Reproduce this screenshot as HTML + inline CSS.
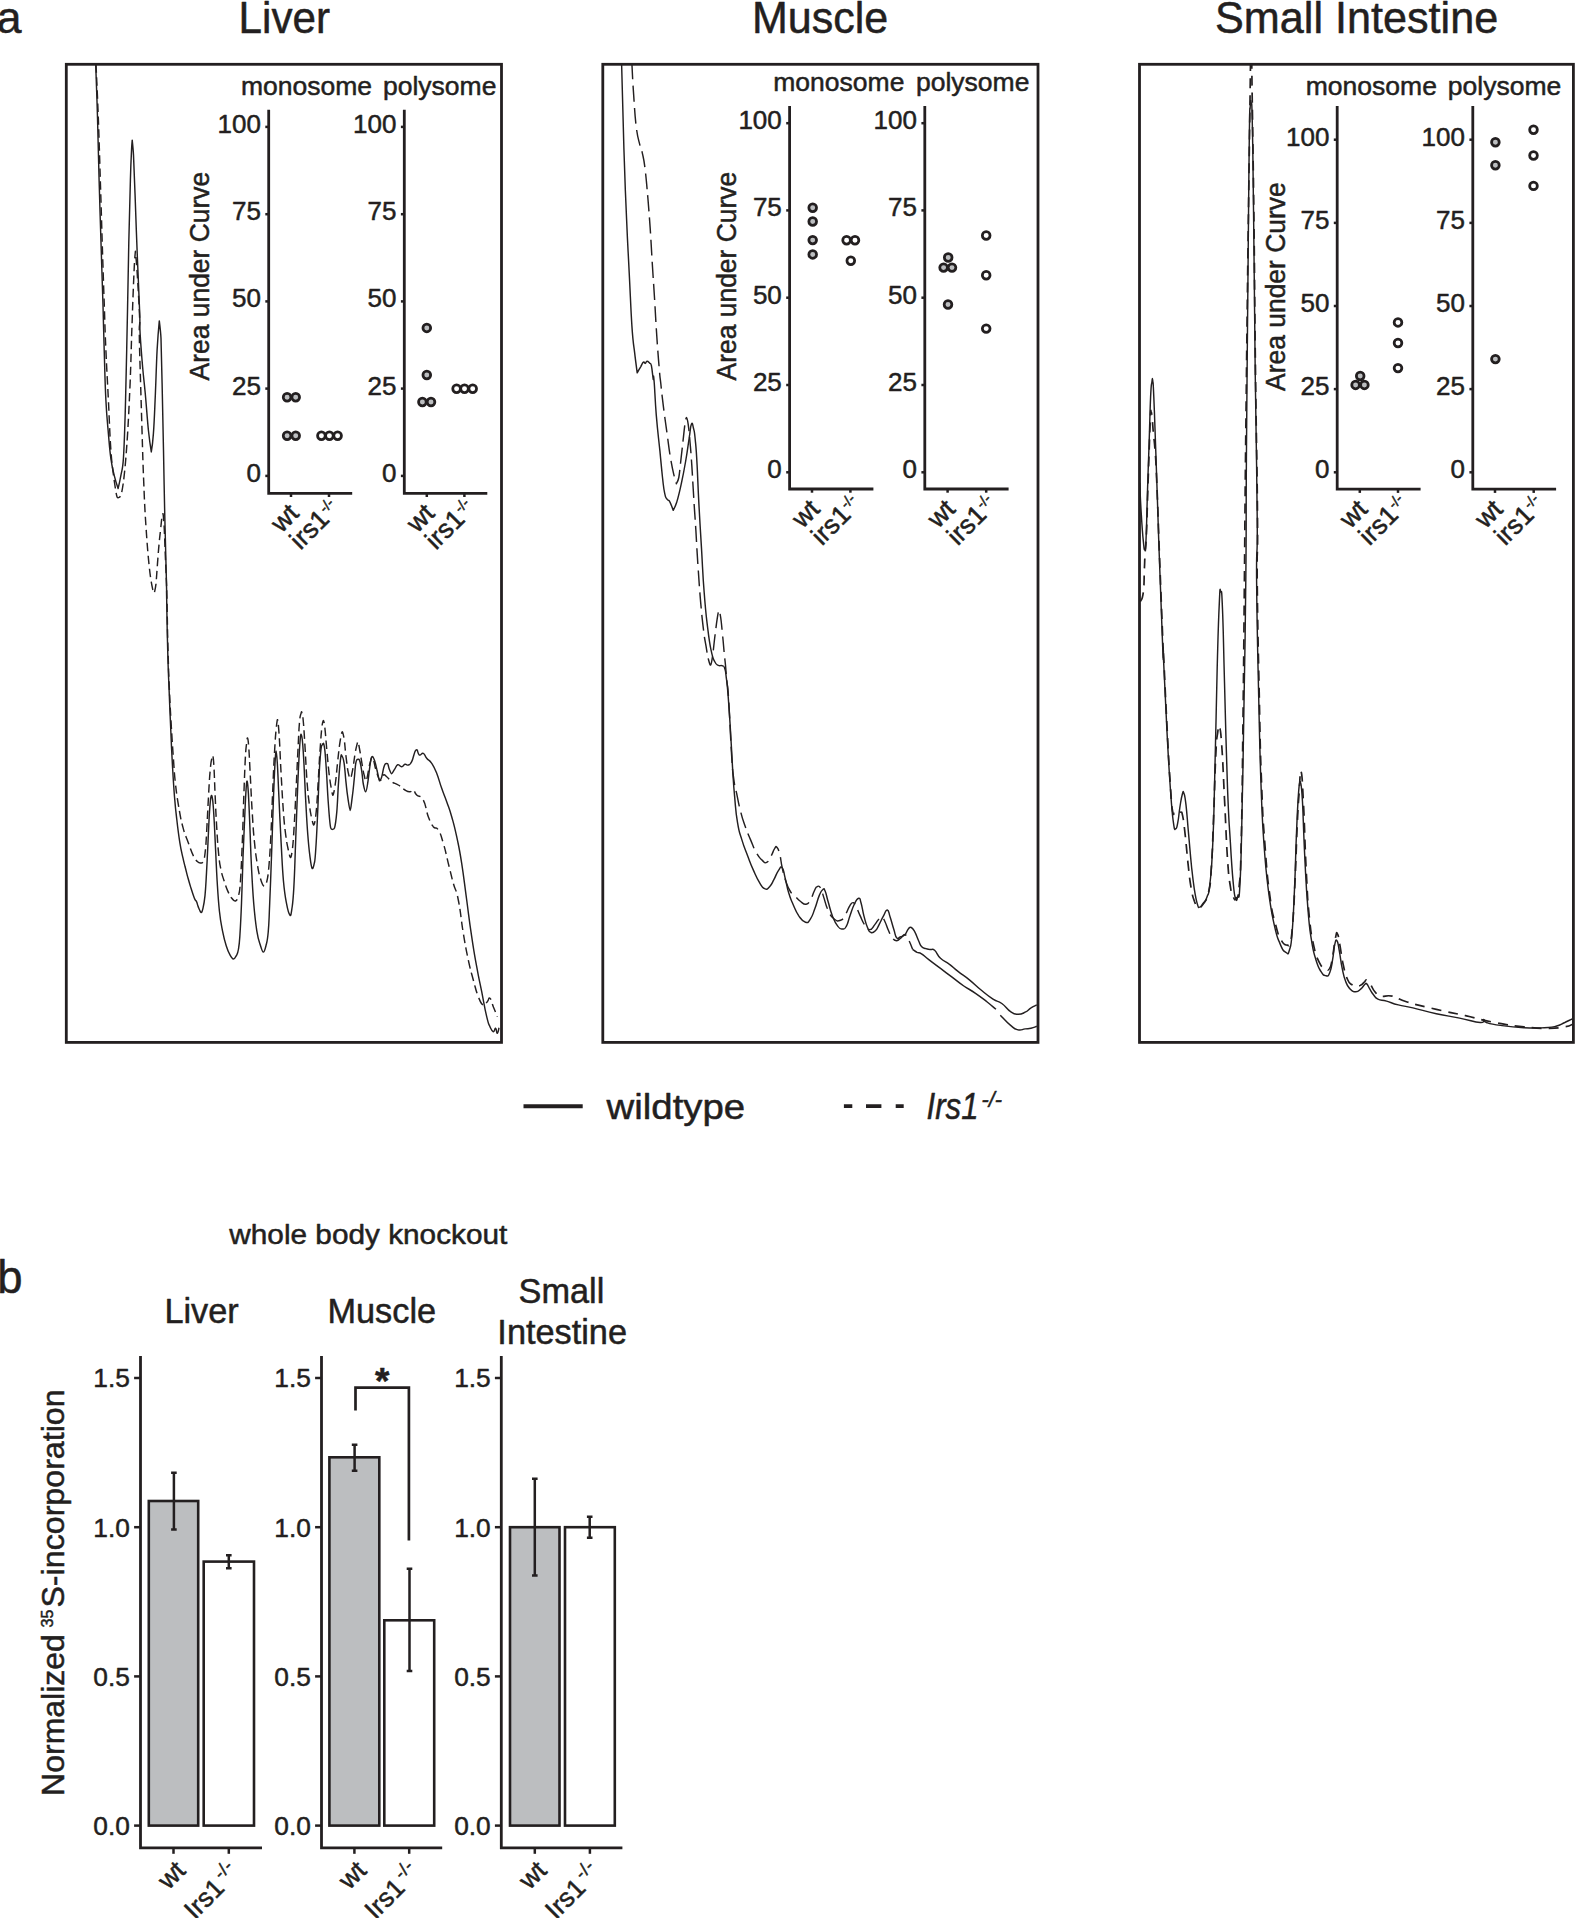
<!DOCTYPE html>
<html lang="en"><head><meta charset="utf-8"><title>Figure</title>
<style>
html,body{margin:0;padding:0;background:#fff;}
body{width:1575px;height:1918px;overflow:hidden;}
svg{display:block;}
svg text{font-family:'Liberation Sans', sans-serif;fill:#231f20;stroke:#231f20;stroke-width:0.5px;stroke-linejoin:round;}
svg line,svg path,svg rect,svg circle{stroke:#231f20;}
</style></head><body>
<svg width="1575" height="1918" viewBox="0 0 1575 1918">
<rect x="0" y="0" width="1575" height="1918" fill="#fff" stroke="none" style="stroke:none"/>
<clipPath id="cp0"><rect x="66.3" y="64.3" width="435.2" height="978.1"/></clipPath>
<clipPath id="cp1"><rect x="602.8" y="64.3" width="435.2" height="978.1"/></clipPath>
<clipPath id="cp2"><rect x="1139.5" y="64.3" width="433.9" height="978.1"/></clipPath>
<path d="M95.7,64.4 C95.7,64.4 97.0,98.3 97.5,117.5 C98.1,136.8 98.5,159.2 99.1,180.1 C99.7,200.9 100.3,221.8 101.0,242.6 C101.6,263.5 102.5,287.3 103.0,305.2 C103.5,323.1 103.6,331.1 104.2,350.1 C104.8,369.1 105.0,383.5 105.9,400.2 C106.7,416.9 107.4,421.9 108.4,433.6 C109.4,445.2 109.7,450.3 110.9,458.6 C112.0,466.9 112.8,469.3 114.2,475.3 C115.7,481.3 118.1,488.6 118.1,488.6 C118.1,488.6 119.8,481.3 120.9,475.3 C122.0,469.3 122.6,470.3 123.4,458.6 C124.2,446.9 124.4,438.6 125.1,416.9 C125.7,395.2 126.0,384.9 126.7,350.1 C127.5,315.2 128.2,271.0 128.8,242.6 C129.4,214.3 129.9,195.7 130.4,180.1 C130.8,164.5 131.4,152.8 131.6,148.8 C131.8,144.8 132.2,140.2 132.2,140.2 C132.2,140.2 133.2,149.5 133.5,155.1 C133.8,160.6 134.4,178.5 135.1,195.7 C135.7,212.9 136.6,238.7 137.4,258.3 C138.2,277.8 139.3,300.5 139.7,313.0 C140.2,325.5 139.5,322.6 140.1,333.4 C140.7,344.1 141.6,355.1 142.6,366.8 C143.6,378.5 143.9,379.1 145.1,391.8 C146.3,404.5 147.2,418.2 148.4,430.2 C149.7,442.2 151.3,451.9 151.3,451.9 C151.3,451.9 152.7,443.9 153.4,433.6 C154.2,423.2 154.4,416.9 155.1,400.2 C155.9,383.5 156.3,365.9 157.1,350.1 C158.0,334.2 159.3,320.9 159.3,320.9 C159.3,320.9 160.7,332.1 161.0,338.4 C161.2,344.7 161.6,361.1 162.1,383.5 C162.6,405.8 162.9,423.5 163.5,450.3 C164.0,477.0 164.2,490.3 164.8,517.0 C165.4,543.7 166.1,567.2 166.5,583.8 C166.8,600.4 166.3,582.3 166.7,600.0 C167.0,617.7 167.0,626.0 167.7,650.0 C168.3,674.0 168.4,671.8 169.1,690.0 C169.8,708.2 169.9,710.3 170.7,728.1 C171.4,745.9 171.6,750.2 172.5,766.2 C173.4,782.2 173.5,784.2 174.5,796.7 C175.5,809.1 175.5,808.9 176.8,819.5 C178.0,830.2 178.4,833.5 179.8,842.4 C181.2,851.3 181.6,851.9 182.9,857.6 C184.1,863.3 184.1,862.5 185.1,866.8 C186.2,871.0 186.2,871.3 187.4,875.9 C188.7,880.5 188.9,881.4 190.5,886.6 C192.1,891.7 192.9,894.4 194.3,898.0 C195.7,901.6 195.7,899.9 196.6,901.8 C197.5,903.8 197.1,904.0 198.1,906.4 C199.1,908.8 200.2,911.8 200.8,912.2 C201.4,912.6 201.7,913.3 202.7,909.4 C203.6,905.6 204.1,904.2 205.0,895.7 C205.8,887.2 205.8,885.3 206.5,872.9 C207.2,860.4 207.3,856.6 208.0,842.4 C208.7,828.2 208.8,822.6 209.5,811.9 C210.2,801.2 210.6,798.3 211.0,796.7 C211.5,795.0 211.9,794.4 212.6,799.7 C213.3,805.0 213.4,807.8 214.1,819.5 C214.8,831.3 214.9,835.8 215.6,850.0 C216.3,864.2 216.3,866.3 217.1,880.5 C218.0,894.7 218.2,899.2 219.4,911.0 C220.7,922.7 220.9,922.6 222.5,930.8 C224.1,938.9 224.5,940.3 226.3,946.0 C228.1,951.7 228.4,952.1 230.1,955.1 C231.8,958.2 232.6,958.9 233.4,959.0 C234.3,959.1 235.0,958.2 236.2,955.9 C237.4,953.6 237.6,954.2 238.5,949.0 C239.4,943.9 239.3,944.5 240.0,933.8 C240.7,923.1 240.8,921.1 241.5,903.3 C242.2,885.6 242.3,877.2 243.0,857.6 C243.8,838.1 243.9,835.5 244.6,819.5 C245.3,803.5 245.5,797.9 246.1,789.0 C246.7,780.2 246.9,780.8 247.2,781.4 C247.5,782.0 247.7,783.0 248.4,793.6 C249.0,804.3 249.2,810.4 249.9,827.1 C250.6,843.9 250.5,847.5 251.4,865.2 C252.3,883.0 252.5,888.0 253.7,903.3 C255.0,918.6 255.2,920.8 256.8,930.8 C258.4,940.7 259.0,941.0 260.6,946.0 C262.1,951.0 262.6,952.1 263.3,952.1 C264.0,952.1 264.8,950.6 265.9,946.0 C267.0,941.4 267.3,942.2 268.2,932.3 C269.1,922.3 268.8,924.3 269.7,903.3 C270.6,882.4 271.1,867.3 272.0,842.4 C272.9,817.5 272.8,815.2 273.5,796.7 C274.2,778.2 274.4,773.8 275.0,763.1 C275.7,752.5 275.8,751.0 276.1,751.0 C276.4,751.0 276.7,752.5 277.3,763.1 C278.0,773.8 278.0,778.2 278.9,796.7 C279.7,815.2 280.1,822.8 281.1,842.4 C282.2,861.9 282.2,866.3 283.4,880.5 C284.7,894.7 284.9,895.2 286.5,903.3 C288.0,911.4 289.3,914.4 290.0,915.2 C290.7,916.0 290.9,915.8 291.8,909.4 C292.7,903.1 292.9,903.7 293.8,888.1 C294.7,872.5 294.7,867.3 295.6,842.4 C296.6,817.5 296.9,804.5 297.9,781.4 C298.9,758.3 299.1,754.2 299.9,743.3 C300.7,732.5 301.0,733.9 301.4,735.0 C301.9,736.0 302.3,736.6 303.2,751.0 C304.2,765.4 304.5,777.1 305.5,796.7 C306.6,816.2 306.7,820.5 307.8,834.8 C308.9,849.0 309.1,849.8 310.1,857.6 C311.1,865.4 311.5,867.5 312.1,868.3 C312.6,869.1 313.4,868.0 314.2,863.7 C315.1,859.4 314.9,862.1 315.7,850.0 C316.6,837.9 316.9,829.7 317.7,811.9 C318.5,794.1 318.5,788.0 319.2,773.8 C319.9,759.6 320.1,757.7 320.8,751.0 C321.5,744.2 321.5,745.9 322.3,744.9 C323.1,743.8 323.4,741.4 324.3,746.4 C325.2,751.4 325.1,752.7 326.1,766.2 C327.1,779.7 327.3,789.9 328.4,804.3 C329.4,818.7 330.1,825.5 330.7,827.9 C331.3,830.3 333.9,829.5 334.5,827.9 C335.1,826.3 335.8,822.7 336.8,811.9 C337.7,801.1 337.7,793.9 338.6,781.4 C339.5,769.0 339.8,764.4 340.6,758.6 C341.4,752.7 341.3,755.2 342.1,756.3 C342.9,757.4 343.2,757.3 344.1,763.1 C345.0,769.0 345.1,773.6 345.9,781.4 C346.8,789.3 346.7,789.9 347.7,796.7 C348.7,803.4 349.6,810.4 350.2,810.4 C350.8,810.4 351.3,804.1 352.3,796.7 C353.3,789.2 353.5,786.2 354.3,778.4 C355.1,770.6 355.0,767.6 355.8,763.1 C356.6,758.7 356.8,759.7 357.8,759.3 C358.8,759.0 359.0,758.6 359.9,761.6 C360.9,764.6 361.1,767.0 361.9,772.3 C362.7,777.6 362.5,779.9 363.4,784.5 C364.3,789.0 365.2,791.8 365.7,791.8 C366.3,791.8 366.7,789.7 367.5,784.5 C368.4,779.2 368.7,775.1 369.5,769.2 C370.3,763.4 370.3,762.2 371.0,759.3 C371.8,756.4 372.1,756.4 372.6,756.7 C373.1,757.0 373.8,758.3 374.9,761.6 C375.9,764.9 376.1,766.3 377.1,770.8 C378.2,775.2 379.0,780.1 379.4,780.7 C379.9,781.3 380.7,779.9 381.7,776.9 C382.7,773.8 382.9,770.7 383.7,767.7 C384.5,764.7 384.8,764.3 385.2,763.9 C385.6,763.5 387.4,763.4 387.8,763.9 C388.2,764.4 388.4,766.9 389.3,769.2 C390.2,771.5 391.1,773.8 391.6,773.8 C392.2,773.8 393.2,771.4 394.7,769.2 C396.1,767.1 396.1,765.3 397.7,764.7 C399.3,764.1 399.7,766.8 401.7,766.7 C403.6,766.6 403.2,764.8 405.0,764.3 C406.8,763.9 406.6,765.7 408.3,765.0 C410.1,764.3 409.6,765.7 411.7,761.7 C413.7,757.7 414.0,751.8 416.0,750.0 C418.0,748.2 417.4,754.1 419.3,755.0 C421.3,755.9 421.4,752.4 423.3,753.3 C425.3,754.2 424.4,755.7 426.7,758.3 C428.9,761.0 429.0,759.3 431.7,763.3 C434.3,767.3 434.0,766.7 436.7,773.3 C439.3,780.0 439.0,780.8 441.7,788.3 C444.3,795.9 444.0,794.1 446.7,801.7 C449.3,809.2 449.0,807.3 451.7,816.7 C454.3,826.0 454.0,824.2 456.7,836.7 C459.3,849.1 459.0,846.4 461.7,863.3 C464.3,880.2 464.0,880.4 466.7,900.0 C469.3,919.6 469.0,918.9 471.7,936.7 C474.3,954.4 474.0,952.0 476.7,966.7 C479.3,981.3 479.0,978.3 481.7,991.7 C484.3,1005.0 484.4,1007.3 486.7,1016.7 C488.9,1026.0 488.2,1022.7 490.0,1026.7 C491.8,1030.7 491.8,1031.2 493.3,1031.7 C494.8,1032.1 494.6,1027.9 495.7,1028.3 C496.7,1028.8 496.4,1033.5 497.3,1033.3 C498.2,1033.2 498.6,1029.2 499.0,1027.7" fill="none" stroke-width="1.45" clip-path="url(#cp0)" stroke-linejoin="round"/>
<path d="M96.0,64.4 C96.0,64.4 97.6,98.3 98.3,117.5 C99.0,136.8 99.7,159.2 100.3,180.1 C101.0,200.9 101.6,221.8 102.2,242.6 C102.9,263.5 103.6,287.3 104.3,305.2 C104.9,323.1 105.0,331.1 105.9,350.1 C106.7,369.1 107.4,380.1 108.4,400.2 C109.4,420.2 109.7,434.2 110.9,450.3 C112.0,466.3 113.0,471.0 114.2,480.3 C115.5,489.6 116.4,495.5 117.1,497.0 C117.7,498.5 120.2,497.5 120.9,495.3 C121.6,493.2 122.9,487.6 124.2,475.3 C125.6,462.9 126.4,451.9 127.6,433.6 C128.7,415.2 129.2,403.5 130.1,383.5 C130.9,363.4 131.2,349.0 131.7,333.4 C132.3,317.7 132.3,316.4 132.7,305.2 C133.1,294.0 134.0,271.5 134.3,266.1 C134.5,260.7 135.4,251.2 135.4,251.2 C135.4,251.2 136.3,260.7 136.6,264.5 C136.9,268.4 137.7,280.2 138.2,289.6 C138.7,298.9 139.6,313.5 139.7,320.8 C139.9,328.1 139.1,320.9 139.3,333.4 C139.4,345.9 140.0,363.4 140.6,383.5 C141.2,403.5 141.5,413.5 142.1,433.6 C142.7,453.6 143.0,465.3 143.8,483.6 C144.5,502.0 144.8,508.7 145.9,525.4 C147.0,542.1 147.9,554.4 149.3,567.1 C150.6,579.8 152.1,586.2 152.6,588.8 C153.1,591.4 154.3,593.0 154.3,593.0 C154.3,593.0 155.5,588.1 156.0,583.8 C156.4,579.5 157.6,561.1 158.5,550.4 C159.4,539.7 159.7,537.4 160.5,530.4 C161.2,523.4 161.9,517.0 162.1,515.4 C162.4,513.7 163.1,513.7 163.1,513.7 C163.1,513.7 163.9,521.7 164.1,525.4 C164.3,529.0 164.7,538.7 165.1,550.4 C165.6,562.1 166.1,573.9 166.5,583.8 C166.8,593.7 166.6,582.3 167.0,600.0 C167.4,617.7 167.3,626.0 168.0,650.0 C168.7,674.0 168.6,671.8 169.4,690.0 C170.2,708.2 170.5,712.1 171.4,728.1 C172.4,744.1 172.5,746.1 173.4,758.6 C174.3,771.0 174.1,770.8 175.2,781.4 C176.4,792.1 176.5,793.6 178.3,804.3 C180.1,815.0 180.5,818.3 182.9,827.1 C185.2,836.0 185.7,835.6 188.2,842.4 C190.7,849.1 191.4,851.7 193.5,856.1 C195.7,860.5 195.7,859.8 197.3,861.4 C198.9,863.0 199.0,863.1 200.4,863.0 C201.8,862.8 202.3,863.7 203.4,860.7 C204.6,857.6 204.6,857.8 205.4,850.0 C206.2,842.2 206.2,839.6 206.9,827.1 C207.6,814.7 207.7,810.2 208.5,796.7 C209.2,783.2 209.5,778.1 210.3,769.2 C211.1,760.3 211.2,761.8 211.8,758.6 C212.4,755.4 212.5,754.8 212.7,755.5 C212.9,756.3 213.4,756.6 213.9,766.2 C214.5,775.8 214.5,782.4 215.2,796.7 C215.8,810.9 215.9,813.6 216.7,827.1 C217.5,840.7 217.7,844.6 218.7,854.6 C219.7,864.5 219.7,863.8 221.0,869.8 C222.2,875.9 222.4,875.5 224.0,880.5 C225.6,885.5 226.0,887.1 227.8,891.1 C229.6,895.2 229.8,895.7 231.6,898.0 C233.4,900.3 234.5,901.4 235.4,901.0 C236.3,900.7 237.3,900.5 238.5,895.7 C239.6,890.9 239.6,892.9 240.5,880.5 C241.3,868.0 241.5,861.9 242.3,842.4 C243.1,822.8 243.1,816.2 243.8,796.7 C244.5,777.1 244.7,771.0 245.3,758.6 C246.0,746.1 246.1,748.1 246.6,743.3 C247.1,738.5 247.3,737.7 247.5,738.0 C247.7,738.3 248.0,738.0 248.7,746.4 C249.3,754.7 249.4,758.5 250.2,773.8 C251.0,789.1 251.2,795.9 252.2,811.9 C253.2,827.9 253.2,829.9 254.5,842.4 C255.7,854.8 256.1,856.7 257.5,865.2 C258.9,873.8 259.1,874.2 260.6,879.0 C262.0,883.8 262.8,885.4 263.6,885.8 C264.4,886.2 265.4,886.8 266.7,882.0 C267.9,877.2 268.0,876.3 269.0,865.2 C269.9,854.2 270.0,852.5 270.9,834.8 C271.8,817.0 271.9,808.6 272.8,789.0 C273.6,769.5 273.8,764.8 274.6,751.0 C275.4,737.1 275.4,736.9 276.1,729.6 C276.8,722.3 277.3,719.1 277.6,719.7 C277.9,720.3 278.3,723.1 279.2,735.7 C280.0,748.3 280.1,756.0 281.1,773.8 C282.1,791.6 282.4,797.7 283.4,811.9 C284.5,826.1 284.6,826.2 285.7,834.8 C286.8,843.3 286.9,843.1 288.0,848.5 C289.1,853.8 289.9,857.5 290.3,857.6 C290.7,857.8 291.4,857.1 292.3,850.0 C293.2,842.9 293.2,841.4 294.1,827.1 C295.0,812.9 295.2,806.8 296.1,789.0 C297.0,771.3 297.1,766.2 297.9,751.0 C298.7,735.7 298.7,732.2 299.4,723.5 C300.1,714.8 300.3,716.1 301.0,713.6 C301.6,711.1 301.5,711.3 302.0,712.9 C302.6,714.5 302.6,713.4 303.2,720.5 C303.9,727.6 303.9,729.1 304.8,743.3 C305.7,757.6 306.0,767.2 307.0,781.4 C308.1,795.7 308.3,795.8 309.3,804.3 C310.4,812.8 310.6,813.2 311.6,818.0 C312.7,822.8 313.4,825.5 313.9,824.9 C314.4,824.2 315.2,822.0 316.2,811.9 C317.2,801.8 317.3,795.7 318.2,781.4 C319.1,767.2 319.1,763.4 320.0,751.0 C320.9,738.5 321.0,735.2 321.8,728.1 C322.6,721.0 323.0,720.5 323.4,720.5 C323.7,720.5 324.1,721.0 324.9,728.1 C325.7,735.2 325.9,740.3 326.9,751.0 C327.9,761.6 328.1,764.9 329.1,773.8 C330.2,782.7 330.5,784.1 331.4,789.0 C332.3,794.0 332.6,795.6 333.0,795.1 C333.3,794.7 334.2,791.9 335.2,784.5 C336.3,777.0 336.5,772.7 337.5,763.1 C338.6,753.5 338.7,750.6 339.8,743.3 C340.9,736.0 341.7,732.4 342.1,731.9 C342.5,731.4 343.2,733.3 344.1,738.8 C345.0,744.3 344.9,747.7 345.9,755.5 C346.9,763.3 347.1,767.0 348.2,772.3 C349.3,777.6 349.9,778.8 350.5,778.4 C351.1,778.0 351.7,774.9 352.8,769.2 C353.8,763.5 354.1,759.7 355.0,754.0 C356.0,748.3 356.2,747.7 356.9,744.9 C357.6,742.0 357.8,741.2 358.1,741.8 C358.4,742.4 359.0,746.0 359.9,751.0 C360.8,755.9 360.9,757.5 361.9,763.1 C362.9,768.8 363.1,771.4 364.2,775.3 C365.3,779.2 365.1,782.7 366.5,779.9 C367.8,777.1 368.3,769.1 370.0,763.3 C371.7,757.6 371.1,756.6 372.7,758.3 C374.3,760.1 374.0,764.2 376.0,770.0 C378.0,775.8 378.0,778.7 380.0,780.0 C382.0,781.3 381.6,775.9 383.3,775.0 C385.1,774.1 384.4,774.9 386.7,776.7 C388.9,778.4 388.6,779.4 391.7,781.7 C394.8,783.9 394.8,782.8 398.3,785.0 C401.9,787.2 401.9,788.2 405.0,790.0 C408.1,791.8 407.8,791.7 410.0,791.7 C412.2,791.7 411.6,789.1 413.3,790.0 C415.1,790.9 414.0,792.3 416.7,795.0 C419.3,797.7 420.2,794.2 423.3,800.0 C426.4,805.8 425.7,809.6 428.3,816.7 C431.0,823.8 430.7,823.1 433.3,826.7 C436.0,830.2 435.7,825.6 438.3,830.0 C441.0,834.4 440.7,834.4 443.3,843.3 C446.0,852.2 445.7,852.7 448.3,863.3 C451.0,874.0 450.7,873.6 453.3,883.3 C456.0,893.1 455.7,886.7 458.3,900.0 C461.0,913.3 460.7,917.3 463.3,933.3 C466.0,949.3 465.7,947.6 468.3,960.0 C471.0,972.4 470.7,970.2 473.3,980.0 C476.0,989.8 475.7,990.0 478.3,996.7 C481.0,1003.3 480.9,1003.7 483.3,1005.0 C485.7,1006.3 485.6,1003.4 487.3,1001.7 C489.1,999.9 488.4,997.0 490.0,998.3 C491.6,999.7 491.4,1001.8 493.3,1006.7 C495.3,1011.6 496.3,1014.0 497.3,1016.7" fill="none" stroke-width="1.45" stroke-dasharray="8.5 4.5" clip-path="url(#cp0)" stroke-linejoin="round"/>
<path d="M621.6,63.5 C622.2,83.4 622.8,112.2 623.9,148.6 C625.1,185.0 625.3,190.6 626.6,219.5 C627.8,248.5 628.0,247.9 629.2,272.7 C630.5,297.5 630.7,307.3 631.9,325.9 C633.1,344.5 633.9,346.2 634.6,352.4 C635.3,358.7 637.2,372.8 637.2,372.8 C637.2,372.8 639.9,368.0 640.8,366.6 C641.6,365.2 642.4,362.9 643.4,362.2 C644.5,361.5 644.4,363.6 645.2,363.4 C646.0,363.2 645.9,361.4 647.0,361.3 C648.0,361.2 648.6,362.1 649.6,363.1 C650.7,364.1 650.6,362.0 651.4,365.7 C652.2,369.5 652.6,375.7 653.2,379.0 C653.8,382.4 653.2,370.3 654.0,380.0 C654.9,389.7 654.8,396.5 656.3,415.4 C657.9,434.4 658.2,434.4 659.9,450.9 C661.5,467.4 661.3,466.1 662.5,477.5 C663.8,488.8 663.5,487.7 664.7,493.4 C665.8,499.2 665.6,497.0 667.0,499.1 C668.3,501.2 668.6,499.5 669.6,501.4 C670.7,503.3 673.2,510.3 673.2,510.3 C673.2,510.3 675.4,506.6 676.7,502.3 C678.0,498.0 678.8,495.4 681.1,484.6 C683.5,473.7 683.5,473.8 685.6,461.5 C687.7,449.2 687.6,448.4 689.1,438.5 C690.7,428.6 690.2,426.9 691.4,424.3 C692.6,421.7 692.5,424.5 693.6,428.7 C694.6,433.0 694.4,430.6 695.3,440.3 C696.3,450.0 696.2,448.1 697.1,465.1 C698.0,482.1 697.7,481.9 698.9,504.1 C700.1,526.3 700.1,524.7 701.5,548.4 C702.9,572.0 702.5,571.4 704.2,592.7 C705.8,614.0 705.8,612.5 707.7,628.1 C709.6,643.7 709.4,642.2 711.3,651.2 C713.2,660.2 712.9,658.0 714.8,661.8 C716.7,665.6 716.5,664.3 718.4,665.4 C720.3,666.4 720.3,665.0 721.9,665.7 C723.6,666.4 723.4,664.8 724.6,668.0 C725.8,671.2 725.4,670.4 726.3,677.8 C727.3,685.1 727.1,682.6 728.1,695.5 C729.1,708.4 729.0,707.0 730.2,726.0 C731.4,745.1 731.4,748.2 732.5,766.9 C733.7,785.6 733.2,781.3 734.6,796.1 C735.9,810.9 735.5,810.7 737.5,822.4 C739.4,834.1 739.1,831.0 741.9,839.9 C744.6,848.9 744.6,847.8 747.7,856.0 C750.8,864.2 750.4,863.6 753.6,870.6 C756.7,877.6 756.4,877.4 759.4,882.3 C762.4,887.1 761.9,887.5 764.6,888.7 C767.4,889.9 767.1,889.2 769.6,886.7 C772.1,884.2 771.7,883.6 774.0,879.4 C776.3,875.1 776.2,873.7 778.4,870.6 C780.6,867.5 780.4,865.7 782.2,867.7 C784.0,869.6 783.4,871.3 785.1,877.9 C786.8,884.5 786.5,885.5 788.6,892.5 C790.7,899.5 790.3,898.0 793.0,904.2 C795.7,910.4 795.5,911.0 798.8,915.9 C802.2,920.7 802.4,921.5 805.5,922.3 C808.7,923.1 808.0,922.4 810.5,918.8 C813.0,915.1 812.5,914.8 814.9,908.6 C817.2,902.3 817.2,900.5 819.3,895.4 C821.4,890.4 821.2,890.7 822.8,889.6 C824.3,888.4 823.7,887.9 825.1,891.0 C826.5,894.2 826.1,894.6 828.0,901.3 C830.0,907.9 829.8,909.2 832.4,915.9 C835.0,922.5 834.9,922.6 837.7,926.1 C840.4,929.6 840.3,929.0 842.6,929.0 C845.0,929.0 844.5,929.6 846.4,926.1 C848.4,922.6 847.8,921.7 849.9,915.9 C852.0,910.0 852.0,908.9 854.3,904.2 C856.6,899.5 856.9,898.7 858.7,898.3 C860.5,898.0 859.6,898.0 861.0,902.7 C862.4,907.4 862.2,909.2 863.9,915.9 C865.7,922.5 865.6,923.1 867.5,927.5 C869.3,932.0 868.8,931.7 871.0,932.5 C873.1,933.3 873.5,932.6 875.6,930.5 C877.8,928.4 877.0,928.5 879.1,924.6 C881.2,920.7 881.3,919.8 883.5,915.9 C885.7,912.0 885.5,909.6 887.3,910.0 C889.1,910.4 888.5,912.3 890.2,917.3 C891.9,922.4 892.0,923.6 893.7,929.0 C895.5,934.5 894.9,935.7 896.7,937.8 C898.4,939.9 898.0,937.7 900.2,936.9 C902.3,936.1 902.7,937.0 904.8,934.8 C907.0,932.7 906.6,931.0 908.3,929.0 C910.1,927.1 909.5,926.8 911.3,927.5 C913.0,928.3 912.8,928.4 914.8,931.9 C916.7,935.4 916.8,936.8 918.6,940.7 C920.4,944.6 919.5,944.4 921.5,946.5 C923.4,948.6 923.5,947.8 925.9,948.6 C928.2,949.4 927.9,949.0 930.2,949.5 C932.6,949.9 931.9,948.0 934.6,950.3 C937.4,952.7 936.6,954.6 940.5,958.2 C944.4,961.9 944.6,960.5 949.2,964.1 C953.9,967.6 952.5,967.1 958.0,971.4 C963.4,975.6 963.4,975.1 969.7,980.1 C975.9,985.2 975.1,985.3 981.4,990.3 C987.6,995.4 987.6,995.6 993.0,999.1 C998.5,1002.6 997.1,1000.1 1001.8,1003.5 C1006.5,1006.8 1006.3,1008.8 1010.6,1011.7 C1014.8,1014.5 1014.0,1014.1 1017.9,1014.3 C1021.8,1014.4 1021.7,1014.0 1025.2,1012.2 C1028.7,1010.5 1027.9,1009.8 1031.0,1007.9 C1034.1,1005.9 1035.3,1005.7 1036.8,1004.9" fill="none" stroke-width="1.45" clip-path="url(#cp1)" stroke-linejoin="round"/>
<path d="M631.9,63.5 C632.3,71.0 632.6,80.6 633.7,95.4 C634.7,110.3 634.9,115.8 636.3,127.4 C637.8,138.9 638.4,138.9 639.9,145.1 C641.3,151.3 641.3,148.1 642.5,153.9 C643.8,159.7 644.0,159.6 645.2,169.9 C646.4,180.2 646.7,184.6 647.9,198.2 C649.0,211.9 649.1,213.1 650.2,228.4 C651.2,243.7 651.3,247.3 652.3,263.8 C653.3,280.4 653.6,282.7 654.6,299.3 C655.6,315.8 655.6,318.2 656.7,334.7 C657.8,351.3 658.4,358.8 659.4,370.2 C660.3,381.6 659.7,373.8 660.8,383.5 C661.8,393.3 661.8,393.4 663.4,406.6 C665.1,419.8 665.1,419.5 667.0,433.2 C668.9,446.9 668.6,446.6 670.5,458.0 C672.4,469.3 673.3,472.3 674.1,475.7 C674.8,479.1 676.4,483.7 676.4,483.7 C676.4,483.7 678.2,480.9 678.8,477.5 C679.5,474.1 679.9,468.9 681.1,458.0 C682.4,447.1 682.4,446.2 683.5,436.7 C684.5,427.3 684.7,425.7 685.2,422.5 C685.7,419.3 686.2,417.4 686.5,417.6 C686.8,417.8 687.6,420.2 688.2,424.3 C688.8,428.4 689.1,431.2 690.0,442.0 C691.0,452.9 690.8,450.9 691.8,465.1 C692.7,479.3 692.5,477.7 693.6,495.2 C694.6,512.7 694.7,511.7 695.9,530.7 C697.0,549.6 696.7,547.2 698.0,566.1 C699.3,585.0 699.2,585.0 700.6,601.6 C702.1,618.1 701.9,616.3 703.3,628.1 C704.7,640.0 704.5,637.4 706.0,645.9 C707.4,654.4 707.3,654.9 708.6,660.0 C709.9,665.1 710.4,665.4 710.7,665.0 C711.1,664.7 711.4,664.0 712.5,656.5 C713.6,649.0 713.6,646.9 714.8,637.0 C716.1,627.1 716.4,623.7 717.1,619.3 C717.8,614.8 718.5,610.6 718.9,610.4 C719.3,610.2 720.1,613.7 720.7,617.5 C721.3,621.3 721.5,624.0 722.4,633.5 C723.4,642.9 723.4,644.4 724.2,653.0 C725.0,661.5 724.8,657.8 725.5,665.4 C726.2,672.9 726.0,672.3 726.9,681.3 C727.7,690.3 727.4,679.3 728.6,699.0 C729.9,718.7 730.3,734.0 731.6,755.2 C733.0,776.5 732.4,768.5 733.7,778.6 C735.0,788.7 734.8,784.6 736.6,793.2 C738.4,801.8 738.2,802.2 740.4,810.7 C742.6,819.3 742.1,817.5 744.8,825.3 C747.5,833.1 747.5,832.5 750.6,839.9 C753.7,847.3 753.4,847.6 756.5,853.1 C759.6,858.5 759.6,857.9 762.3,860.4 C765.0,862.9 764.4,863.6 766.7,862.4 C769.0,861.2 769.0,859.7 771.1,856.0 C773.2,852.3 773.0,851.0 774.6,848.7 C776.1,846.4 775.5,845.7 776.9,847.2 C778.3,848.8 778.4,849.1 779.8,854.5 C781.2,860.0 780.6,860.7 782.2,867.7 C783.7,874.7 783.6,874.6 785.7,880.8 C787.8,887.0 787.7,887.1 790.1,891.0 C792.4,894.9 791.7,892.7 794.4,895.4 C797.2,898.1 797.2,898.9 800.3,901.3 C803.4,903.6 803.4,904.6 806.1,904.2 C808.8,903.8 808.3,903.3 810.5,899.8 C812.7,896.3 812.5,894.5 814.3,891.0 C816.1,887.5 815.5,887.4 817.2,886.7 C818.9,885.9 819.0,885.4 820.7,888.1 C822.4,890.8 821.7,891.0 823.6,896.9 C825.6,902.7 825.3,904.2 828.0,910.0 C830.8,915.9 830.5,916.1 833.9,918.8 C837.2,921.5 837.5,921.4 840.6,920.2 C843.7,919.1 843.1,918.3 845.5,914.4 C848.0,910.5 847.8,908.8 849.9,905.6 C852.0,902.5 851.7,902.3 853.4,902.7 C855.1,903.1 854.6,903.6 856.4,907.1 C858.1,910.6 858.0,911.2 860.2,915.9 C862.3,920.5 862.0,921.0 864.5,924.6 C867.1,928.3 867.1,929.6 869.8,929.6 C872.5,929.6 872.3,927.5 874.8,924.6 C877.2,921.7 877.2,920.7 879.1,918.8 C881.1,916.8 880.5,916.5 882.1,917.3 C883.6,918.1 883.3,918.2 885.0,921.7 C886.7,925.2 886.5,926.2 888.5,930.5 C890.4,934.8 890.1,935.0 892.3,937.8 C894.5,940.5 894.3,940.7 896.7,940.7 C899.0,940.7 898.9,939.3 901.0,937.8 C903.2,936.2 902.9,934.5 904.8,934.8 C906.8,935.2 906.2,935.3 908.3,939.2 C910.4,943.1 911.6,946.7 912.7,949.5" fill="none" stroke-width="1.45" stroke-dasharray="16 6.2" clip-path="url(#cp1)" stroke-linejoin="round"/>
<path d="M912.7,949.5 C913.9,950.2 914.8,951.2 917.1,952.4 C919.4,953.5 918.4,951.9 921.5,953.8 C924.6,955.8 923.7,955.8 928.8,959.7 C933.8,963.6 934.2,963.8 940.5,968.4 C946.7,973.1 945.9,972.5 952.1,977.2 C958.4,981.9 957.6,981.7 963.8,986.0 C970.1,990.2 969.3,989.0 975.5,993.3 C981.7,997.5 981.7,997.7 987.2,1002.0 C992.6,1006.3 993.6,1007.4 996.0,1009.3" fill="none" stroke-width="1.45" clip-path="url(#cp1)" stroke-linejoin="round"/>
<path d="M1000.3,1015.2 C1003.1,1017.9 1005.9,1021.5 1010.6,1025.4 C1015.2,1029.3 1014.0,1028.8 1017.9,1029.8 C1021.8,1030.7 1021.7,1029.3 1025.2,1028.9 C1028.7,1028.5 1027.9,1029.0 1031.0,1028.3 C1034.1,1027.6 1035.3,1026.8 1036.8,1026.3" fill="none" stroke-width="1.45" clip-path="url(#cp1)" stroke-linejoin="round"/>
<path d="M1139.7,482.9 C1140.1,491.3 1140.3,498.8 1141.3,514.2 C1142.2,529.7 1142.3,531.4 1143.3,540.8 C1144.3,550.2 1144.1,550.2 1144.9,549.4 C1145.6,548.6 1145.4,553.3 1146.1,537.7 C1146.8,522.0 1146.7,515.8 1147.5,490.8 C1148.3,465.7 1148.2,468.9 1149.1,443.8 C1149.9,418.8 1149.9,413.4 1150.6,396.9 C1151.4,380.4 1151.3,386.2 1151.9,382.1 C1152.5,377.9 1152.3,377.3 1152.8,381.3 C1153.3,385.2 1153.0,378.2 1153.8,396.9 C1154.6,415.7 1154.4,412.0 1155.8,451.7 C1157.2,491.3 1157.1,492.6 1158.9,545.5 C1160.8,598.4 1161.7,621.3 1162.8,650.0 C1164.0,678.6 1162.1,631.2 1163.2,653.0 C1164.3,674.9 1165.0,695.3 1167.0,731.9 C1168.9,768.5 1168.8,766.1 1170.5,790.3 C1172.2,814.4 1172.0,812.1 1173.4,822.4 C1174.8,832.7 1174.6,828.8 1175.7,828.8 C1176.9,828.8 1176.7,828.0 1177.8,822.4 C1178.9,816.8 1178.7,815.2 1179.8,807.8 C1181.0,800.4 1181.1,798.6 1182.2,794.7 C1183.3,790.8 1182.9,790.5 1183.9,793.2 C1184.9,795.9 1184.7,794.0 1186.0,804.9 C1187.2,815.8 1187.1,817.7 1188.6,834.1 C1190.1,850.4 1190.0,851.4 1191.5,866.2 C1193.1,881.0 1192.9,879.5 1194.4,889.6 C1196.0,899.7 1196.0,899.5 1197.4,904.2 C1198.8,908.9 1198.1,907.1 1199.7,907.1 C1201.3,907.1 1201.3,906.9 1203.2,904.2 C1205.1,901.5 1205.2,902.3 1207.0,896.9 C1208.8,891.4 1208.4,898.1 1209.9,883.7 C1211.5,869.3 1211.5,873.2 1212.8,842.9 C1214.2,812.5 1213.7,816.6 1214.9,769.8 C1216.1,723.1 1216.1,712.0 1217.2,667.6 C1218.4,623.2 1218.3,623.6 1219.3,603.4 C1220.2,583.1 1219.9,590.1 1220.7,591.7 C1221.6,593.2 1221.5,585.1 1222.5,609.2 C1223.5,633.3 1223.2,635.5 1224.5,682.2 C1225.8,728.9 1225.9,741.6 1227.4,784.4 C1229.0,827.3 1228.8,816.4 1230.4,842.9 C1231.9,869.3 1231.9,868.9 1233.3,883.7 C1234.7,898.5 1234.5,894.8 1235.6,898.3 C1236.8,901.8 1236.5,900.8 1237.7,896.9 C1238.8,893.0 1238.8,905.9 1240.0,883.7 C1241.2,861.5 1241.0,863.5 1242.0,813.6 C1243.1,763.8 1243.1,759.1 1244.1,696.8 C1245.1,634.5 1245.2,643.5 1245.8,580.0 C1246.5,516.5 1245.9,537.9 1246.4,458.9 C1247.0,379.9 1247.1,369.3 1247.9,283.6 C1248.7,198.0 1248.7,184.7 1249.3,137.6 C1250.0,90.5 1249.8,115.9 1250.2,107.0 C1250.7,98.0 1250.6,99.7 1251.1,104.0 C1251.6,108.3 1251.6,90.7 1252.3,123.0 C1253.0,155.3 1252.9,159.0 1253.7,225.2 C1254.5,291.4 1254.3,293.4 1255.2,371.3 C1256.1,449.1 1256.8,461.6 1257.2,517.3 C1257.6,573.0 1256.3,532.1 1256.6,580.0 C1257.0,627.9 1257.5,642.3 1258.7,696.8 C1259.9,751.3 1259.6,745.5 1261.0,784.4 C1262.4,823.4 1262.0,814.8 1263.9,842.9 C1265.9,870.9 1265.6,867.8 1268.3,889.6 C1271.1,911.4 1271.1,910.2 1274.2,924.6 C1277.3,939.0 1276.9,936.2 1280.0,943.6 C1283.1,951.0 1283.3,950.8 1285.9,952.4 C1288.4,953.9 1287.9,955.3 1289.6,949.5 C1291.4,943.6 1291.0,947.2 1292.3,930.5 C1293.6,913.7 1293.4,913.9 1294.6,886.7 C1295.8,859.4 1295.5,854.7 1296.7,828.2 C1297.8,801.8 1298.3,794.9 1299.0,787.4 C1299.7,779.8 1300.4,781.5 1300.7,783.0 C1301.1,784.4 1301.8,789.6 1302.5,802.0 C1303.2,814.4 1303.4,829.4 1304.8,857.5 C1306.2,885.5 1306.0,885.3 1307.8,907.1 C1309.5,928.9 1309.1,925.2 1311.3,939.2 C1313.4,953.2 1313.4,951.1 1315.9,959.7 C1318.5,968.2 1318.3,967.1 1320.9,971.4 C1323.5,975.6 1323.5,975.3 1325.9,975.7 C1328.2,976.1 1327.9,977.1 1329.7,972.8 C1331.5,968.5 1331.3,967.1 1332.6,959.7 C1333.9,952.3 1333.5,950.1 1334.6,945.1 C1335.8,940.0 1335.7,939.1 1337.0,940.7 C1338.2,942.2 1337.9,943.5 1339.3,950.9 C1340.7,958.3 1340.5,960.3 1342.2,968.4 C1343.9,976.6 1343.6,976.1 1345.7,981.6 C1347.8,987.0 1347.4,986.2 1350.1,988.9 C1352.8,991.6 1353.1,991.8 1355.9,991.8 C1358.8,991.8 1358.6,990.8 1360.9,988.9 C1363.2,986.9 1363.2,985.8 1364.7,984.5 C1366.3,983.2 1365.4,982.7 1366.8,983.9 C1368.1,985.1 1367.9,986.0 1369.7,988.9 C1371.5,991.8 1371.3,992.0 1373.5,994.7 C1375.7,997.4 1374.3,997.4 1377.9,999.1 C1381.4,1000.8 1381.2,999.6 1386.6,1001.1 C1392.1,1002.7 1391.3,1003.2 1398.3,1004.9 C1405.3,1006.7 1402.8,1005.5 1412.9,1007.9 C1423.0,1010.2 1423.8,1011.0 1436.3,1013.7 C1448.7,1016.4 1447.9,1015.7 1459.6,1018.1 C1471.3,1020.4 1473.7,1022.1 1480.1,1022.5 C1486.5,1022.9 1481.9,1019.5 1483.6,1019.5 C1485.3,1019.5 1482.0,1020.9 1486.5,1022.5 C1491.0,1024.0 1490.5,1024.0 1500.5,1025.4 C1510.5,1026.8 1512.2,1027.1 1523.9,1027.7 C1535.6,1028.3 1535.8,1028.1 1544.3,1027.7 C1552.9,1027.3 1550.6,1027.7 1556.0,1026.3 C1561.5,1024.9 1560.5,1024.4 1564.8,1022.5 C1569.0,1020.5 1570.1,1019.9 1572.1,1019.0" fill="none" stroke-width="1.45" clip-path="url(#cp2)" stroke-linejoin="round"/>
<path d="M1140.3,601.8 C1141.1,599.3 1142.2,601.2 1143.3,592.4 C1144.4,583.7 1143.9,579.8 1144.4,569.0 C1144.9,558.1 1144.6,560.9 1145.2,551.8 C1145.7,542.6 1145.7,550.8 1146.4,534.6 C1147.1,518.3 1147.0,515.0 1147.8,490.8 C1148.6,466.6 1148.7,463.9 1149.4,443.8 C1150.1,423.8 1150.0,424.2 1150.5,415.7 C1150.9,407.1 1150.7,411.4 1151.1,411.8 C1151.5,412.2 1151.4,411.2 1152.1,417.3 C1152.7,423.3 1152.7,425.7 1153.5,434.5 C1154.3,443.2 1154.2,438.4 1155.0,450.1 C1155.9,461.8 1155.4,450.7 1156.6,478.3 C1157.8,505.8 1157.7,507.5 1159.4,553.3 C1161.2,599.1 1162.1,623.4 1163.2,650.0 C1164.2,676.6 1162.4,631.2 1163.5,653.0 C1164.6,674.9 1165.4,696.0 1167.3,731.9 C1169.1,767.7 1169.1,766.3 1170.5,787.4 C1171.9,808.4 1171.4,803.7 1172.5,810.7 C1173.7,817.7 1173.5,812.5 1174.9,813.6 C1176.3,814.8 1176.2,815.5 1177.8,815.1 C1179.3,814.7 1179.4,811.8 1180.7,812.2 C1182.0,812.6 1181.6,810.7 1182.8,816.6 C1183.9,822.4 1183.7,821.6 1185.1,834.1 C1186.5,846.5 1186.5,849.3 1188.0,863.3 C1189.6,877.3 1189.2,876.5 1190.9,886.7 C1192.6,896.8 1192.5,895.8 1194.4,901.3 C1196.4,906.7 1196.1,906.3 1198.2,907.1 C1200.4,907.9 1199.9,908.1 1202.6,904.2 C1205.3,900.3 1206.1,902.6 1208.5,892.5 C1210.8,882.4 1210.0,887.2 1211.4,866.2 C1212.8,845.2 1212.5,843.2 1213.7,813.6 C1214.9,784.0 1214.7,777.0 1215.8,755.2 C1216.8,733.4 1216.9,739.3 1217.8,731.9 C1218.7,724.5 1218.3,724.4 1219.3,727.5 C1220.3,730.6 1220.2,724.5 1221.6,743.6 C1223.0,762.6 1223.0,768.7 1224.5,799.0 C1226.1,829.4 1225.9,834.1 1227.4,857.5 C1229.0,880.8 1228.8,876.1 1230.4,886.7 C1231.9,897.2 1231.7,893.8 1233.3,896.9 C1234.8,900.0 1234.6,901.1 1236.2,898.3 C1237.8,895.6 1237.8,901.5 1239.1,886.7 C1240.4,871.9 1240.2,885.7 1241.2,842.9 C1242.2,800.0 1242.1,796.1 1242.9,726.0 C1243.8,655.9 1243.7,651.2 1244.4,580.0 C1245.1,508.8 1244.6,545.7 1245.5,458.9 C1246.5,372.1 1246.7,347.9 1247.9,254.4 C1249.1,161.0 1249.2,160.6 1249.9,108.4 C1250.6,56.2 1250.4,72.0 1250.5,58.8" fill="none" stroke-width="1.70" stroke-dasharray="10 7" clip-path="url(#cp2)" stroke-linejoin="round"/>
<path d="M1251.7,58.8 C1251.9,75.9 1251.9,78.6 1252.6,123.0 C1253.2,167.4 1253.2,159.0 1254.0,225.2 C1254.8,291.4 1254.5,293.4 1255.5,371.3 C1256.4,449.1 1257.1,461.6 1257.5,517.3 C1258.0,573.0 1256.8,532.1 1257.2,580.0 C1257.7,627.9 1258.1,642.3 1259.3,696.8 C1260.4,751.3 1260.1,745.5 1261.6,784.4 C1263.1,823.4 1262.6,813.3 1264.8,842.9 C1267.0,872.4 1266.9,873.6 1269.8,895.4 C1272.7,917.2 1272.5,912.6 1275.6,924.6 C1278.7,936.7 1278.4,935.2 1281.5,940.7 C1284.6,946.1 1285.0,944.7 1287.3,945.1 C1289.6,945.5 1288.8,947.6 1290.2,942.1 C1291.6,936.7 1291.3,940.2 1292.6,924.6 C1293.8,909.0 1293.7,910.2 1294.9,883.7 C1296.2,857.3 1296.1,850.2 1297.2,825.3 C1298.4,800.4 1298.3,804.7 1299.3,790.3 C1300.3,775.9 1299.9,768.2 1301.0,771.3 C1302.1,774.4 1302.0,775.1 1303.4,802.0 C1304.8,828.8 1304.7,841.7 1306.3,872.1 C1307.9,902.4 1307.3,896.4 1309.2,915.9 C1311.2,935.3 1310.9,932.6 1313.6,945.1 C1316.3,957.5 1316.3,956.4 1319.4,962.6 C1322.6,968.8 1322.6,966.9 1325.3,968.4 C1328.0,970.0 1327.7,971.5 1329.7,968.4 C1331.6,965.3 1331.0,964.9 1332.6,956.8 C1334.1,948.6 1334.2,943.8 1335.5,937.8 C1336.8,931.7 1336.4,932.0 1337.5,934.0 C1338.7,935.9 1338.3,936.7 1339.9,945.1 C1341.4,953.5 1341.4,956.6 1343.4,965.5 C1345.3,974.5 1345.0,973.6 1347.2,978.7 C1349.4,983.7 1348.8,982.6 1351.6,984.5 C1354.3,986.4 1354.7,986.0 1357.4,986.0 C1360.1,986.0 1359.8,985.7 1361.8,984.5 C1363.7,983.3 1363.3,982.7 1364.7,981.6 C1366.1,980.4 1365.5,979.3 1367.0,980.1 C1368.6,980.9 1368.4,981.4 1370.5,984.5 C1372.7,987.6 1372.2,988.7 1374.9,991.8 C1377.7,994.9 1376.1,995.0 1380.8,996.2 C1385.4,997.3 1385.4,994.6 1392.5,996.2 C1399.5,997.7 1395.4,998.5 1407.1,1002.0 C1418.7,1005.5 1420.7,1005.7 1436.3,1009.3 C1451.8,1013.0 1449.9,1012.2 1465.5,1015.7 C1481.0,1019.3 1479.1,1019.5 1494.7,1022.5 C1510.2,1025.4 1509.9,1025.3 1523.9,1026.8 C1537.9,1028.4 1536.3,1028.3 1547.2,1028.3 C1558.1,1028.3 1558.1,1027.9 1564.8,1026.8 C1571.4,1025.8 1570.1,1025.1 1572.1,1024.5" fill="none" stroke-width="1.70" stroke-dasharray="10 7" clip-path="url(#cp2)" stroke-linejoin="round"/>
<rect x="66.3" y="64.3" width="435.2" height="978.1" fill="none" stroke-width="2.8"/>
<rect x="602.8" y="64.3" width="435.2" height="978.1" fill="none" stroke-width="2.8"/>
<rect x="1139.5" y="64.3" width="433.9" height="978.1" fill="none" stroke-width="2.8"/>
<text x="238.6" y="32.5" font-size="44.00" text-anchor="start" textLength="91.5" lengthAdjust="spacingAndGlyphs" stroke-width="0.15">Liver</text>
<text x="752.0" y="32.5" font-size="44.00" text-anchor="start" textLength="136.3" lengthAdjust="spacingAndGlyphs" stroke-width="0.15">Muscle</text>
<text x="1215.0" y="32.5" font-size="44.00" text-anchor="start" textLength="283.2" lengthAdjust="spacingAndGlyphs" stroke-width="0.15">Small Intestine</text>
<text x="-3.3" y="32.8" font-size="44.50" text-anchor="start" stroke-width="0.7">a</text>
<path d="M268.7,109.8 V493.3 H352.2" fill="none" stroke-width="2.8"/>
<line x1="265.3" y1="126.9" x2="268.7" y2="126.9" stroke-width="2.50" />
<text x="260.9" y="132.9" font-size="26.00" text-anchor="end" >100</text>
<line x1="265.3" y1="214.2" x2="268.7" y2="214.2" stroke-width="2.50" />
<text x="260.9" y="220.2" font-size="26.00" text-anchor="end" >75</text>
<line x1="265.3" y1="301.4" x2="268.7" y2="301.4" stroke-width="2.50" />
<text x="260.9" y="307.4" font-size="26.00" text-anchor="end" >50</text>
<line x1="265.3" y1="388.6" x2="268.7" y2="388.6" stroke-width="2.50" />
<text x="260.9" y="394.6" font-size="26.00" text-anchor="end" >25</text>
<line x1="265.3" y1="475.9" x2="268.7" y2="475.9" stroke-width="2.50" />
<text x="260.9" y="481.9" font-size="26.00" text-anchor="end" >0</text>
<path d="M404.3,109.8 V493.3 H487.3" fill="none" stroke-width="2.8"/>
<line x1="400.9" y1="126.9" x2="404.3" y2="126.9" stroke-width="2.50" />
<text x="396.5" y="132.9" font-size="26.00" text-anchor="end" >100</text>
<line x1="400.9" y1="214.2" x2="404.3" y2="214.2" stroke-width="2.50" />
<text x="396.5" y="220.2" font-size="26.00" text-anchor="end" >75</text>
<line x1="400.9" y1="301.4" x2="404.3" y2="301.4" stroke-width="2.50" />
<text x="396.5" y="307.4" font-size="26.00" text-anchor="end" >50</text>
<line x1="400.9" y1="388.6" x2="404.3" y2="388.6" stroke-width="2.50" />
<text x="396.5" y="394.6" font-size="26.00" text-anchor="end" >25</text>
<line x1="400.9" y1="475.9" x2="404.3" y2="475.9" stroke-width="2.50" />
<text x="396.5" y="481.9" font-size="26.00" text-anchor="end" >0</text>
<line x1="291.0" y1="493.3" x2="291.0" y2="497.0" stroke-width="2.50" />
<line x1="329.0" y1="493.3" x2="329.0" y2="497.0" stroke-width="2.50" />
<line x1="426.8" y1="493.3" x2="426.8" y2="497.0" stroke-width="2.50" />
<line x1="464.4" y1="493.3" x2="464.4" y2="497.0" stroke-width="2.50" />
<text x="241.0" y="95.0" font-size="26.50" text-anchor="start" >monosome</text>
<text x="383.0" y="95.0" font-size="26.50" text-anchor="start" >polysome</text>
<text x="209.3" y="380.5" font-size="27.20" text-anchor="start" transform="rotate(-90 209.3 380.5)" textLength="208.8" lengthAdjust="spacingAndGlyphs" >Area under Curve</text>
<text x="300.2" y="514.9" font-size="26.50" text-anchor="end" transform="rotate(-45 300.2 514.9)" >wt</text>
<text x="341.0" y="510.2" font-size="26.50" text-anchor="end" transform="rotate(-45 341.0 510.2)" >irs1<tspan font-size="14.8" dy="-8.8" dx="0.6">-/-</tspan></text>
<text x="436.0" y="514.9" font-size="26.50" text-anchor="end" transform="rotate(-45 436.0 514.9)" >wt</text>
<text x="476.4" y="510.2" font-size="26.50" text-anchor="end" transform="rotate(-45 476.4 510.2)" >irs1<tspan font-size="14.8" dy="-8.8" dx="0.6">-/-</tspan></text>
<circle cx="287.1" cy="397.2" r="3.85" fill="#bcbec0" stroke-width="2.75"/>
<circle cx="295.7" cy="397.2" r="3.85" fill="#bcbec0" stroke-width="2.75"/>
<circle cx="287.1" cy="435.8" r="3.85" fill="#bcbec0" stroke-width="2.75"/>
<circle cx="295.7" cy="435.8" r="3.85" fill="#bcbec0" stroke-width="2.75"/>
<circle cx="321.4" cy="435.8" r="3.85" fill="#fff" stroke-width="2.75"/>
<circle cx="329.4" cy="435.8" r="3.85" fill="#fff" stroke-width="2.75"/>
<circle cx="337.6" cy="435.8" r="3.85" fill="#fff" stroke-width="2.75"/>
<circle cx="426.8" cy="327.9" r="3.85" fill="#bcbec0" stroke-width="2.75"/>
<circle cx="426.8" cy="375.0" r="3.85" fill="#bcbec0" stroke-width="2.75"/>
<circle cx="422.4" cy="402.0" r="3.85" fill="#bcbec0" stroke-width="2.75"/>
<circle cx="431.0" cy="402.0" r="3.85" fill="#bcbec0" stroke-width="2.75"/>
<circle cx="456.6" cy="388.8" r="3.85" fill="#fff" stroke-width="2.75"/>
<circle cx="464.5" cy="388.8" r="3.85" fill="#fff" stroke-width="2.75"/>
<circle cx="472.7" cy="388.8" r="3.85" fill="#fff" stroke-width="2.75"/>
<path d="M789.6,106.0 V489.0 H873.4" fill="none" stroke-width="2.8"/>
<line x1="786.2" y1="123.2" x2="789.6" y2="123.2" stroke-width="2.50" />
<text x="781.8" y="129.2" font-size="26.00" text-anchor="end" >100</text>
<line x1="786.2" y1="210.4" x2="789.6" y2="210.4" stroke-width="2.50" />
<text x="781.8" y="216.4" font-size="26.00" text-anchor="end" >75</text>
<line x1="786.2" y1="297.7" x2="789.6" y2="297.7" stroke-width="2.50" />
<text x="781.8" y="303.7" font-size="26.00" text-anchor="end" >50</text>
<line x1="786.2" y1="385.0" x2="789.6" y2="385.0" stroke-width="2.50" />
<text x="781.8" y="391.0" font-size="26.00" text-anchor="end" >25</text>
<line x1="786.2" y1="472.3" x2="789.6" y2="472.3" stroke-width="2.50" />
<text x="781.8" y="478.3" font-size="26.00" text-anchor="end" >0</text>
<path d="M924.8,106.0 V489.0 H1008.6" fill="none" stroke-width="2.8"/>
<line x1="921.4" y1="123.2" x2="924.8" y2="123.2" stroke-width="2.50" />
<text x="917.0" y="129.2" font-size="26.00" text-anchor="end" >100</text>
<line x1="921.4" y1="210.4" x2="924.8" y2="210.4" stroke-width="2.50" />
<text x="917.0" y="216.4" font-size="26.00" text-anchor="end" >75</text>
<line x1="921.4" y1="297.7" x2="924.8" y2="297.7" stroke-width="2.50" />
<text x="917.0" y="303.7" font-size="26.00" text-anchor="end" >50</text>
<line x1="921.4" y1="385.0" x2="924.8" y2="385.0" stroke-width="2.50" />
<text x="917.0" y="391.0" font-size="26.00" text-anchor="end" >25</text>
<line x1="921.4" y1="472.3" x2="924.8" y2="472.3" stroke-width="2.50" />
<text x="917.0" y="478.3" font-size="26.00" text-anchor="end" >0</text>
<line x1="812.0" y1="489.0" x2="812.0" y2="492.7" stroke-width="2.50" />
<line x1="850.4" y1="489.0" x2="850.4" y2="492.7" stroke-width="2.50" />
<line x1="947.6" y1="489.0" x2="947.6" y2="492.7" stroke-width="2.50" />
<line x1="986.2" y1="489.0" x2="986.2" y2="492.7" stroke-width="2.50" />
<text x="773.3" y="91.0" font-size="26.50" text-anchor="start" >monosome</text>
<text x="916.0" y="91.0" font-size="26.50" text-anchor="start" >polysome</text>
<text x="736.2" y="380.5" font-size="27.20" text-anchor="start" transform="rotate(-90 736.2 380.5)" textLength="208.8" lengthAdjust="spacingAndGlyphs" >Area under Curve</text>
<text x="821.2" y="510.6" font-size="26.50" text-anchor="end" transform="rotate(-45 821.2 510.6)" >wt</text>
<text x="862.4" y="505.9" font-size="26.50" text-anchor="end" transform="rotate(-45 862.4 505.9)" >irs1<tspan font-size="14.8" dy="-8.8" dx="0.6">-/-</tspan></text>
<text x="956.8" y="510.6" font-size="26.50" text-anchor="end" transform="rotate(-45 956.8 510.6)" >wt</text>
<text x="998.2" y="505.9" font-size="26.50" text-anchor="end" transform="rotate(-45 998.2 505.9)" >irs1<tspan font-size="14.8" dy="-8.8" dx="0.6">-/-</tspan></text>
<circle cx="812.7" cy="207.7" r="3.85" fill="#bcbec0" stroke-width="2.75"/>
<circle cx="812.7" cy="221.5" r="3.85" fill="#bcbec0" stroke-width="2.75"/>
<circle cx="812.7" cy="240.1" r="3.85" fill="#bcbec0" stroke-width="2.75"/>
<circle cx="812.7" cy="254.4" r="3.85" fill="#bcbec0" stroke-width="2.75"/>
<circle cx="846.6" cy="240.3" r="3.85" fill="#fff" stroke-width="2.75"/>
<circle cx="855.0" cy="240.3" r="3.85" fill="#fff" stroke-width="2.75"/>
<circle cx="850.8" cy="260.7" r="3.85" fill="#fff" stroke-width="2.75"/>
<circle cx="948.2" cy="257.5" r="3.85" fill="#bcbec0" stroke-width="2.75"/>
<circle cx="943.6" cy="267.6" r="3.85" fill="#bcbec0" stroke-width="2.75"/>
<circle cx="952.0" cy="267.6" r="3.85" fill="#bcbec0" stroke-width="2.75"/>
<circle cx="948.0" cy="304.5" r="3.85" fill="#bcbec0" stroke-width="2.75"/>
<circle cx="986.2" cy="235.5" r="3.85" fill="#fff" stroke-width="2.75"/>
<circle cx="986.2" cy="275.3" r="3.85" fill="#fff" stroke-width="2.75"/>
<circle cx="986.2" cy="328.6" r="3.85" fill="#fff" stroke-width="2.75"/>
<path d="M1337.2,106.0 V489.2 H1420.6" fill="none" stroke-width="2.8"/>
<line x1="1333.8" y1="139.7" x2="1337.2" y2="139.7" stroke-width="2.50" />
<text x="1329.4" y="145.7" font-size="26.00" text-anchor="end" >100</text>
<line x1="1333.8" y1="222.9" x2="1337.2" y2="222.9" stroke-width="2.50" />
<text x="1329.4" y="228.9" font-size="26.00" text-anchor="end" >75</text>
<line x1="1333.8" y1="306.0" x2="1337.2" y2="306.0" stroke-width="2.50" />
<text x="1329.4" y="312.0" font-size="26.00" text-anchor="end" >50</text>
<line x1="1333.8" y1="389.1" x2="1337.2" y2="389.1" stroke-width="2.50" />
<text x="1329.4" y="395.1" font-size="26.00" text-anchor="end" >25</text>
<line x1="1333.8" y1="472.3" x2="1337.2" y2="472.3" stroke-width="2.50" />
<text x="1329.4" y="478.3" font-size="26.00" text-anchor="end" >0</text>
<path d="M1472.8,106.0 V489.2 H1556.1" fill="none" stroke-width="2.8"/>
<line x1="1469.4" y1="139.7" x2="1472.8" y2="139.7" stroke-width="2.50" />
<text x="1465.0" y="145.7" font-size="26.00" text-anchor="end" >100</text>
<line x1="1469.4" y1="222.9" x2="1472.8" y2="222.9" stroke-width="2.50" />
<text x="1465.0" y="228.9" font-size="26.00" text-anchor="end" >75</text>
<line x1="1469.4" y1="306.0" x2="1472.8" y2="306.0" stroke-width="2.50" />
<text x="1465.0" y="312.0" font-size="26.00" text-anchor="end" >50</text>
<line x1="1469.4" y1="389.1" x2="1472.8" y2="389.1" stroke-width="2.50" />
<text x="1465.0" y="395.1" font-size="26.00" text-anchor="end" >25</text>
<line x1="1469.4" y1="472.3" x2="1472.8" y2="472.3" stroke-width="2.50" />
<text x="1465.0" y="478.3" font-size="26.00" text-anchor="end" >0</text>
<line x1="1359.8" y1="489.2" x2="1359.8" y2="492.9" stroke-width="2.50" />
<line x1="1398.0" y1="489.2" x2="1398.0" y2="492.9" stroke-width="2.50" />
<line x1="1495.0" y1="489.2" x2="1495.0" y2="492.9" stroke-width="2.50" />
<line x1="1533.7" y1="489.2" x2="1533.7" y2="492.9" stroke-width="2.50" />
<text x="1305.8" y="95.0" font-size="26.50" text-anchor="start" >monosome</text>
<text x="1447.8" y="95.0" font-size="26.50" text-anchor="start" >polysome</text>
<text x="1284.8" y="391.0" font-size="27.20" text-anchor="start" transform="rotate(-90 1284.8 391.0)" textLength="208.8" lengthAdjust="spacingAndGlyphs" >Area under Curve</text>
<text x="1369.0" y="510.8" font-size="26.50" text-anchor="end" transform="rotate(-45 1369.0 510.8)" >wt</text>
<text x="1410.0" y="506.1" font-size="26.50" text-anchor="end" transform="rotate(-45 1410.0 506.1)" >irs1<tspan font-size="14.8" dy="-8.8" dx="0.6">-/-</tspan></text>
<text x="1504.2" y="510.8" font-size="26.50" text-anchor="end" transform="rotate(-45 1504.2 510.8)" >wt</text>
<text x="1545.7" y="506.1" font-size="26.50" text-anchor="end" transform="rotate(-45 1545.7 506.1)" >irs1<tspan font-size="14.8" dy="-8.8" dx="0.6">-/-</tspan></text>
<circle cx="1360.2" cy="376.0" r="3.85" fill="#bcbec0" stroke-width="2.75"/>
<circle cx="1355.6" cy="384.9" r="3.85" fill="#bcbec0" stroke-width="2.75"/>
<circle cx="1364.4" cy="384.9" r="3.85" fill="#bcbec0" stroke-width="2.75"/>
<circle cx="1398.0" cy="322.4" r="3.85" fill="#fff" stroke-width="2.75"/>
<circle cx="1398.0" cy="343.0" r="3.85" fill="#fff" stroke-width="2.75"/>
<circle cx="1398.0" cy="368.1" r="3.85" fill="#fff" stroke-width="2.75"/>
<circle cx="1495.4" cy="142.3" r="3.85" fill="#bcbec0" stroke-width="2.75"/>
<circle cx="1495.4" cy="165.3" r="3.85" fill="#bcbec0" stroke-width="2.75"/>
<circle cx="1495.4" cy="359.1" r="3.85" fill="#bcbec0" stroke-width="2.75"/>
<circle cx="1533.5" cy="129.7" r="3.85" fill="#fff" stroke-width="2.75"/>
<circle cx="1533.5" cy="155.5" r="3.85" fill="#fff" stroke-width="2.75"/>
<circle cx="1533.5" cy="185.9" r="3.85" fill="#fff" stroke-width="2.75"/>
<line x1="523.5" y1="1106.2" x2="582.7" y2="1106.2" stroke-width="4.00" />
<text x="606.6" y="1119.0" font-size="35.00" text-anchor="start" textLength="138.6" lengthAdjust="spacingAndGlyphs" stroke-width="0">wildtype</text>
<path d="M843.9,1106.1 H852.3 M866,1106.1 H881.4 M895.7,1106.1 H903.7" stroke-width="3.8"/>
<text x="926.5" y="1119.4" font-size="36.00" text-anchor="start" textLength="52.0" lengthAdjust="spacingAndGlyphs" font-style="italic" stroke-width="0.1">Irs1</text>
<text x="981.5" y="1107.0" font-size="21.50" text-anchor="start" textLength="20.5" lengthAdjust="spacingAndGlyphs" font-style="italic" stroke-width="0">-/-</text>
<text x="229.3" y="1244.4" font-size="27.30" text-anchor="start" textLength="278.0" lengthAdjust="spacingAndGlyphs" stroke-width="0">whole body knockout</text>
<text x="-2.8" y="1293.0" font-size="45.50" text-anchor="start" stroke-width="0.7">b</text>
<text x="201.6" y="1323.2" font-size="34.30" text-anchor="middle" >Liver</text>
<text x="381.8" y="1323.2" font-size="34.30" text-anchor="middle" >Muscle</text>
<text x="561.4" y="1303.0" font-size="34.30" text-anchor="middle" >Small</text>
<text x="562.2" y="1343.6" font-size="34.30" text-anchor="middle" >Intestine</text>
<path d="M140.5,1355.9 V1847.8 H262.0" fill="none" stroke-width="2.8"/>
<line x1="134.1" y1="1378.0" x2="140.5" y2="1378.0" stroke-width="2.50" />
<text x="129.9" y="1387.3" font-size="26.30" text-anchor="end" >1.5</text>
<line x1="134.1" y1="1527.2" x2="140.5" y2="1527.2" stroke-width="2.50" />
<text x="129.9" y="1536.5" font-size="26.30" text-anchor="end" >1.0</text>
<line x1="134.1" y1="1676.4" x2="140.5" y2="1676.4" stroke-width="2.50" />
<text x="129.9" y="1685.7" font-size="26.30" text-anchor="end" >0.5</text>
<line x1="134.1" y1="1825.6" x2="140.5" y2="1825.6" stroke-width="2.50" />
<text x="129.9" y="1834.9" font-size="26.30" text-anchor="end" >0.0</text>
<rect x="148.8" y="1501.0" width="49.4" height="324.6" fill="#bcbec0" stroke-width="2.6"/>
<rect x="203.7" y="1561.6" width="50.3" height="264.0" fill="#fff" stroke-width="2.6"/>
<path d="M173.9,1472.8 V1529.6 M171.1,1472.8 h5.6 M171.1,1529.6 h5.6" fill="none" stroke-width="2.5"/>
<path d="M228.8,1555.3 V1568.3 M226.0,1555.3 h5.6 M226.0,1568.3 h5.6" fill="none" stroke-width="2.5"/>
<line x1="173.5" y1="1847.8" x2="173.5" y2="1853.8" stroke-width="2.50" />
<text x="187.0" y="1872.0" font-size="26.30" text-anchor="end" transform="rotate(-45 187.0 1872.0)" >wt</text>
<line x1="228.8" y1="1847.8" x2="228.8" y2="1853.8" stroke-width="2.50" />
<text x="241.3" y="1874.0" font-size="26.30" text-anchor="end" transform="rotate(-45 241.3 1874.0)" >Irs1<tspan font-size="18" dy="-10" dx="3" letter-spacing="0.6">-/-</tspan></text>
<path d="M321.5,1355.9 V1847.8 H442.2" fill="none" stroke-width="2.8"/>
<line x1="315.1" y1="1378.0" x2="321.5" y2="1378.0" stroke-width="2.50" />
<text x="310.9" y="1387.3" font-size="26.30" text-anchor="end" >1.5</text>
<line x1="315.1" y1="1527.2" x2="321.5" y2="1527.2" stroke-width="2.50" />
<text x="310.9" y="1536.5" font-size="26.30" text-anchor="end" >1.0</text>
<line x1="315.1" y1="1676.4" x2="321.5" y2="1676.4" stroke-width="2.50" />
<text x="310.9" y="1685.7" font-size="26.30" text-anchor="end" >0.5</text>
<line x1="315.1" y1="1825.6" x2="321.5" y2="1825.6" stroke-width="2.50" />
<text x="310.9" y="1834.9" font-size="26.30" text-anchor="end" >0.0</text>
<rect x="329.4" y="1457.3" width="49.9" height="368.3" fill="#bcbec0" stroke-width="2.6"/>
<rect x="384.3" y="1620.3" width="49.9" height="205.3" fill="#fff" stroke-width="2.6"/>
<path d="M354.6,1444.8 V1470.7 M351.8,1444.8 h5.6 M351.8,1470.7 h5.6" fill="none" stroke-width="2.5"/>
<path d="M409.5,1568.7 V1671.0 M406.7,1568.7 h5.6 M406.7,1671.0 h5.6" fill="none" stroke-width="2.5"/>
<line x1="354.4" y1="1847.8" x2="354.4" y2="1853.8" stroke-width="2.50" />
<text x="367.9" y="1872.0" font-size="26.30" text-anchor="end" transform="rotate(-45 367.9 1872.0)" >wt</text>
<line x1="409.2" y1="1847.8" x2="409.2" y2="1853.8" stroke-width="2.50" />
<text x="421.8" y="1874.0" font-size="26.30" text-anchor="end" transform="rotate(-45 421.8 1874.0)" >Irs1<tspan font-size="18" dy="-10" dx="3" letter-spacing="0.6">-/-</tspan></text>
<path d="M501.3,1355.9 V1847.8 H622.4" fill="none" stroke-width="2.8"/>
<line x1="494.9" y1="1378.0" x2="501.3" y2="1378.0" stroke-width="2.50" />
<text x="490.7" y="1387.3" font-size="26.30" text-anchor="end" >1.5</text>
<line x1="494.9" y1="1527.2" x2="501.3" y2="1527.2" stroke-width="2.50" />
<text x="490.7" y="1536.5" font-size="26.30" text-anchor="end" >1.0</text>
<line x1="494.9" y1="1676.4" x2="501.3" y2="1676.4" stroke-width="2.50" />
<text x="490.7" y="1685.7" font-size="26.30" text-anchor="end" >0.5</text>
<line x1="494.9" y1="1825.6" x2="501.3" y2="1825.6" stroke-width="2.50" />
<text x="490.7" y="1834.9" font-size="26.30" text-anchor="end" >0.0</text>
<rect x="510.0" y="1527.2" width="49.5" height="298.4" fill="#bcbec0" stroke-width="2.6"/>
<rect x="565.0" y="1527.2" width="49.8" height="298.4" fill="#fff" stroke-width="2.6"/>
<path d="M534.8,1478.7 V1575.4 M532.0,1478.7 h5.6 M532.0,1575.4 h5.6" fill="none" stroke-width="2.5"/>
<path d="M589.7,1516.8 V1537.7 M586.9,1516.8 h5.6 M586.9,1537.7 h5.6" fill="none" stroke-width="2.5"/>
<line x1="534.8" y1="1847.8" x2="534.8" y2="1853.8" stroke-width="2.50" />
<text x="548.2" y="1872.0" font-size="26.30" text-anchor="end" transform="rotate(-45 548.2 1872.0)" >wt</text>
<line x1="589.9" y1="1847.8" x2="589.9" y2="1853.8" stroke-width="2.50" />
<text x="602.4" y="1874.0" font-size="26.30" text-anchor="end" transform="rotate(-45 602.4 1874.0)" >Irs1<tspan font-size="18" dy="-10" dx="3" letter-spacing="0.6">-/-</tspan></text>
<path d="M355.5,1410.6 V1387.6 H408.9 V1540.6" fill="none" stroke-width="2.7"/>
<text x="382.3" y="1394.0" font-size="37.00" text-anchor="middle" font-weight="bold">*</text>
<text x="64.1" y="1795.9" font-size="32.00" text-anchor="start" transform="rotate(-90 64.1 1795.9)" >Normalized</text>
<text x="52.9" y="1627.4" font-size="16.00" text-anchor="start" transform="rotate(-90 52.9 1627.4)" >35</text>
<text x="64.1" y="1607.6" font-size="32.20" text-anchor="start" transform="rotate(-90 64.1 1607.6)" >S-incorporation</text>
</svg>
</body></html>
